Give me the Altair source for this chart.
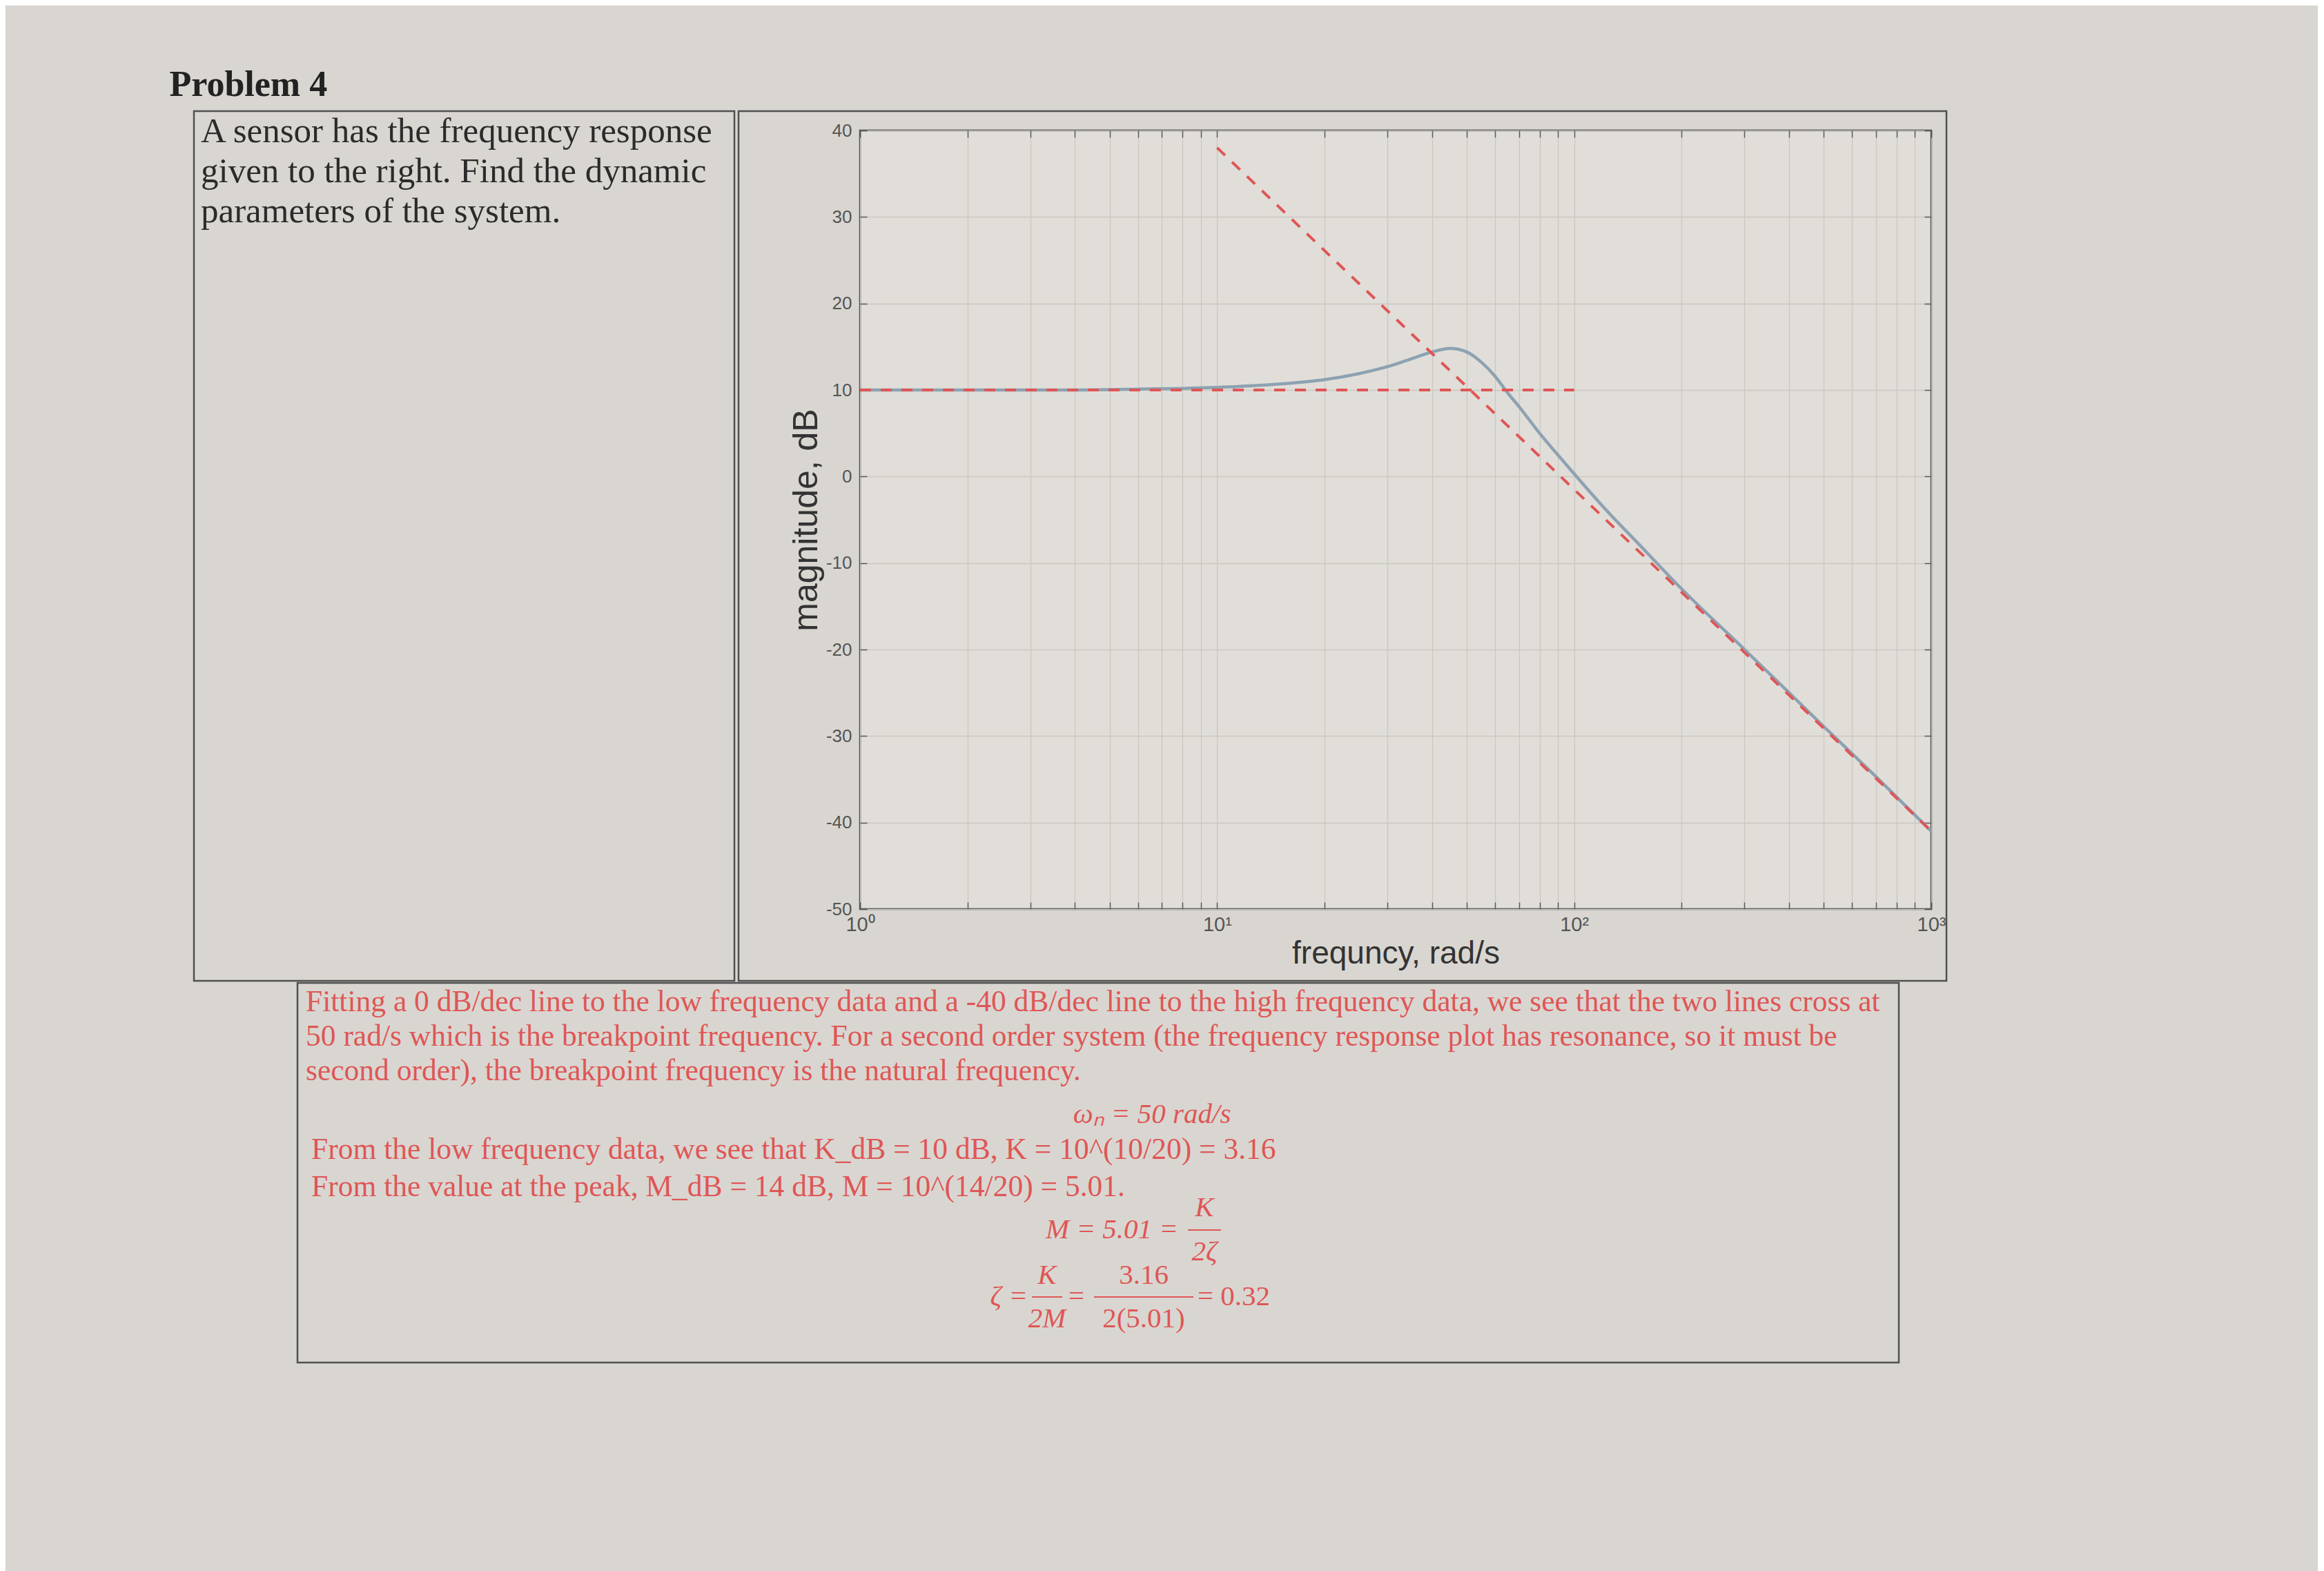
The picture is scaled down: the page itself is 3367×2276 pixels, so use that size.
import altair as alt
import pandas as pd

# ---------------- data ----------------
freq = [1, 2, 4, 6, 10, 15, 20, 25, 30, 35, 40, 45, 50, 55, 60, 65, 70, 80, 90,
        100, 125, 150, 200, 300, 400, 500, 700, 1000]
mag_db = [10.0, 10.0, 10.0, 10.1, 10.3, 10.7, 11.2, 11.9, 12.7, 13.6, 14.4, 14.8, 14.4,
          13.2, 11.6, 9.7, 8.1, 5.0, 2.5, 0.3, -4.2, -7.6, -13.0, -20.0, -25.0,
          -28.9, -34.7, -41.0]

low_fit_freq = [1, 100]
low_fit_db = [10.0, 10.0]
high_fit_freq = [10, 1000]
high_fit_db = [38.0, -41.0]

x_tick_values = [1, 2, 3, 4, 5, 6, 7, 8, 9, 10, 20, 30, 40, 50, 60, 70, 80, 90,
                 100, 200, 300, 400, 500, 600, 700, 800, 900, 1000]
x_major_values = [1, 10, 100, 1000]
x_major_labels = ["10⁰", "10¹", "10²", "10³"]
y_tick_values = [-50, -40, -30, -20, -10, 0, 10, 20, 30, 40]

title_text = "Problem 4"
question_lines = [
    "A sensor has the frequency response",
    "given to the right.  Find the dynamic",
    "parameters of the system.",
]
solution_lines = [
    "Fitting a 0 dB/dec line to the low frequency data and a -40 dB/dec line to the high frequency data, we see that the two lines cross at",
    "50 rad/s which is the breakpoint frequency.  For a second order system (the frequency response plot has resonance, so it must be",
    "second order), the breakpoint frequency is the natural frequency.",
]
omega_text = "ωₙ = 50 rad/s"
gain_lines = [
    "From the low frequency data, we see that K_dB = 10 dB, K = 10^(10/20) = 3.16",
    "From the value at the peak, M_dB = 14 dB, M = 10^(14/20) = 5.01.",
]
eq_m_left = "M = 5.01 ="
eq_m_num = "K"
eq_m_den = "2ζ"
eq_z_left = "ζ ="
eq_z_num1 = "K"
eq_z_den1 = "2M"
eq_z_mid = "="
eq_z_num2 = "3.16"
eq_z_den2 = "2(5.01)"
eq_z_right = "= 0.32"

# ---------------- styles ----------------
BG = "#d9d6d1"
PLOT_BG = "#e1ded9"
INK = "#2b2b2b"
RED = "#df5656"
LINE = "#505050"
SERIF = "Liberation Serif"
SANS = "Liberation Sans"
GRID = "#cbc7c1"

PLOT_W, PLOT_H = 1552, 1128
CELL_L, CELL_R, CELL_T, CELL_B = 176, 22, 28, 104
LEFT_W = 783
BOT_X0, BOT_W, BOT_H = 150, 2320, 550
RED_SIZE = 43.5
EQ_SIZE = 41


def label(text, x, y, align="left", size=RED_SIZE, color=RED, italic=False, weight="normal"):
    return alt.Chart(pd.DataFrame({"t": [text]})).mark_text(
        align=align, baseline="middle", font=SERIF, fontSize=size, color=color,
        fontStyle="italic" if italic else "normal", fontWeight=weight,
    ).encode(text="t:N", x=alt.value(x), y=alt.value(y))


def bar(x1, x2, y):
    return alt.Chart(pd.DataFrame({"t": [0]})).mark_rule(color=RED, strokeWidth=2).encode(
        x=alt.value(x1), x2=alt.value(x2), y=alt.value(y))


def box(x1, x2, y1, y2):
    return alt.Chart(pd.DataFrame({"t": [0]})).mark_rect(
        fill="transparent", stroke=LINE, strokeWidth=2.5
    ).encode(x=alt.value(x1), x2=alt.value(x2), y=alt.value(y1), y2=alt.value(y2))


NO_FRAME = alt.ViewBackground(stroke="transparent", fill=BG)

# ---------------- left cell (question) ----------------
left_layers = [box(0, LEFT_W, -CELL_T, PLOT_H + CELL_B)]
left_layers += [label(t, 10, -CELL_T + 30 + 58 * i, size=51, color=INK)
                for i, t in enumerate(question_lines)]
left_panel = alt.layer(*left_layers).properties(width=LEFT_W, height=PLOT_H, view=NO_FRAME)

# ---------------- plot ----------------
curve_df = pd.DataFrame({"freq": freq, "mag": mag_db})
fit_df = pd.concat([
    pd.DataFrame({"freq": low_fit_freq, "mag": low_fit_db, "fit": "low"}),
    pd.DataFrame({"freq": high_fit_freq, "mag": high_fit_db, "fit": "high"}),
], ignore_index=True)

xscale = alt.Scale(type="log", domain=[1, 1000], nice=False)
yscale = alt.Scale(domain=[-50, 40], nice=False, zero=False)

label_expr = " : ".join(
    f"datum.value == {v} ? '{t}'" for v, t in zip(x_major_values, x_major_labels)
) + " : ''"

# table cell around the figure
cell = box(-CELL_L, PLOT_W + CELL_R, -CELL_T, PLOT_H + CELL_B)

curve = alt.Chart(curve_df).mark_line(
    color="#8da2b2", strokeWidth=4.5, interpolate="monotone"
).encode(
    x=alt.X("freq:Q", scale=xscale, axis=alt.Axis(
        orient="bottom", values=x_tick_values, labelExpr=label_expr,
        title="frequncy, rad/s", grid=True, gridColor=GRID, gridWidth=1.3,
        domain=False, tickSize=10, offset=-10, tickColor="#5a5a5a", tickWidth=1.5,
        labelFont=SANS, labelFontSize=29, labelColor="#555555", labelPadding=8,
        labelOverlap=False, labelFlush=False,
        titleFont=SANS, titleFontSize=46, titleColor="#333333", titleFontWeight="normal",
        titlePadding=5)),
    y=alt.Y("mag:Q", scale=yscale, axis=alt.Axis(
        orient="left", values=y_tick_values, title="magnitude, dB",
        labelExpr="toString(datum.value)",
        grid=True, gridColor=GRID, gridWidth=1.3,
        domain=False, tickSize=10, offset=-10, tickColor="#5a5a5a", tickWidth=1.5,
        labelFont=SANS, labelFontSize=26, labelColor="#555555", labelPadding=12,
        labelOverlap=False,
        titleFont=SANS, titleFontSize=50, titleColor="#333333", titleFontWeight="normal",
        titlePadding=3)),
)

fits = alt.Chart(fit_df).mark_line(
    color=RED, strokeWidth=4, strokeDash=[16, 14]
).encode(
    x=alt.X("freq:Q", scale=xscale, axis=alt.Axis(
        orient="top", values=x_tick_values, labels=False, grid=False, domain=False,
        tickSize=10, offset=-10, tickColor="#5a5a5a", tickWidth=1.5, title="")),
    y=alt.Y("mag:Q", scale=yscale, axis=alt.Axis(
        orient="right", values=y_tick_values, labels=False, grid=False, domain=False,
        tickSize=10, offset=-10, tickColor="#5a5a5a", tickWidth=1.5, title="")),
    detail="fit:N",
)

plot = alt.layer(cell, curve, fits).resolve_axis(x="independent", y="independent").properties(
    width=PLOT_W, height=PLOT_H,
    view=alt.ViewBackground(fill=PLOT_BG, stroke="#3c3c3c", strokeWidth=2.5)
)

# ---------------- bottom cell (solution) ----------------
X0 = BOT_X0
bl = [box(X0, X0 + BOT_W, 0, BOT_H)]
for i, t in enumerate(solution_lines):
    bl.append(label(t, X0 + 12, 28 + 50 * i))
bl.append(label(omega_text, X0 + 1238, 191, align="center", italic=True, size=EQ_SIZE))
for i, t in enumerate(gain_lines):
    bl.append(label(t, X0 + 20, 242 + 54 * i))
# M = 5.01 = K / 2ζ
bl.append(label(eq_m_left, X0 + 1276, 358, align="right", italic=True, size=EQ_SIZE))
bl.append(label(eq_m_num, X0 + 1314, 326, align="center", italic=True, size=EQ_SIZE))
bl.append(bar(X0 + 1290, X0 + 1338, 358))
bl.append(label(eq_m_den, X0 + 1314, 390, align="center", italic=True, size=EQ_SIZE))
# ζ = K/2M = 3.16/2(5.01) = 0.32
bl.append(label(eq_z_left, X0 + 1058, 455, align="right", italic=True, size=EQ_SIZE))
bl.append(label(eq_z_num1, X0 + 1086, 424, align="center", italic=True, size=EQ_SIZE))
bl.append(bar(X0 + 1064, X0 + 1108, 455))
bl.append(label(eq_z_den1, X0 + 1086, 487, align="center", italic=True, size=EQ_SIZE))
bl.append(label(eq_z_mid, X0 + 1128, 455, align="center", italic=True, size=EQ_SIZE))
bl.append(label(eq_z_num2, X0 + 1226, 424, align="center", size=EQ_SIZE))
bl.append(bar(X0 + 1154, X0 + 1298, 455))
bl.append(label(eq_z_den2, X0 + 1226, 487, align="center", size=EQ_SIZE))
bl.append(label(eq_z_right, X0 + 1304, 455, align="left", size=EQ_SIZE))
bottom_panel = alt.layer(*bl).properties(width=X0 + BOT_W, height=BOT_H, view=NO_FRAME)

top_row = alt.hconcat(left_panel, plot, spacing=0)

chart = alt.vconcat(top_row, bottom_panel, spacing=-3).properties(
    title=alt.TitleParams(title_text, anchor="start", font=SERIF, fontSize=52,
                          fontWeight="bold", color="#222222", dx=-33, offset=9),
    padding={"left": 237, "top": 88, "right": 535, "bottom": 300},
    background=BG,
).configure_view(stroke=LINE, strokeWidth=2.5).configure_concat(spacing=0)

chart.save("out.html", embed_options={"renderer": "svg", "actions": False})
